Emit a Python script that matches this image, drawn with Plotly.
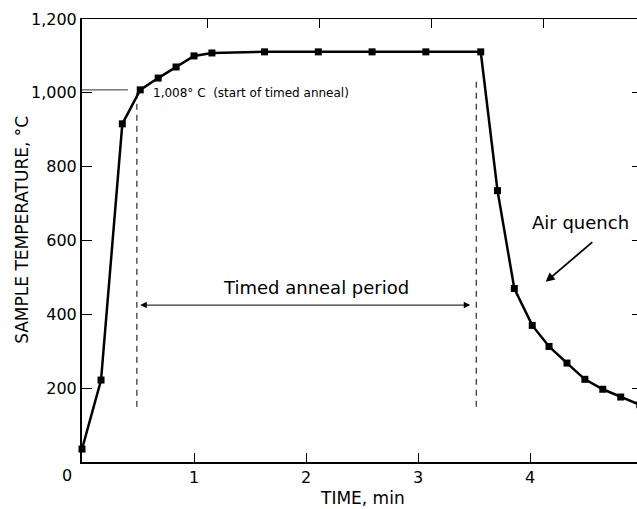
import plotly.graph_objects as go

# ---- data ----
time_min = [0.0, 0.17, 0.36, 0.52, 0.68, 0.84, 1.0, 1.16, 1.63, 2.11, 2.59, 3.07,
            3.56, 3.71, 3.86, 4.02, 4.17, 4.33, 4.49, 4.65, 4.81, 4.98]
temp_c = [35, 222, 916, 1008, 1040, 1070, 1100, 1108, 1111, 1111, 1111, 1111,
          1111, 735, 470, 370, 313, 268, 224, 197, 176, 155]

x_ticks = [1, 2, 3, 4]
y_ticks = [200, 400, 600, 800, 1000, 1200]
y_tick_labels = ["200", "400", "600", "800", "1,000", "1,200"]

anneal_start_temp = 1008
anneal_start_line_end = 0.41
anneal_start_time = 0.49
anneal_end_time = 3.52
guide_bottom = 140
guide_top_start = 1000
guide_top_end = 1030
period_arrow_y = 425
period_arrow_x = [0.52, 3.48]
quench_arrow_tail = (4.57, 599)
quench_arrow_head = (4.14, 488)

FONT = "DejaVu Sans"

fig = go.Figure()

# dashed guides (start/end of timed anneal)
fig.add_trace(go.Scatter(x=[anneal_start_time, anneal_start_time], y=[guide_top_start, guide_bottom],
                         mode="lines", line=dict(color="black", width=1, dash="6px,5px"),
                         hoverinfo="skip", showlegend=False))
fig.add_trace(go.Scatter(x=[anneal_end_time, anneal_end_time], y=[guide_top_end, guide_bottom],
                         mode="lines", line=dict(color="black", width=1, dash="6px,5px"),
                         hoverinfo="skip", showlegend=False))
# horizontal 1,008 C marker line
fig.add_trace(go.Scatter(x=[0, anneal_start_line_end], y=[anneal_start_temp, anneal_start_temp],
                         mode="lines", line=dict(color="#333333", width=1),
                         hoverinfo="skip", showlegend=False))

# main curve
fig.add_trace(go.Scatter(x=time_min, y=temp_c, mode="lines+markers",
                         line=dict(color="black", width=2.5),
                         marker=dict(symbol="square", size=7, color="black"),
                         cliponaxis=False, showlegend=False))

# top axis (ticks slightly offset as in the scan)
fig.add_trace(go.Scatter(x=[], y=[], xaxis="x2", showlegend=False))

annotations = [
    dict(x=anneal_start_time + 0.13, y=1000, xref="x", yref="y", text="1,008° C  (start of timed anneal)",
         showarrow=False, xanchor="left", yanchor="middle", font=dict(size=12, family=FONT, color="black")),
    dict(x=2.09, y=472, xref="x", yref="y", text="Timed anneal period", showarrow=False,
         font=dict(size=18, family=FONT, color="black")),
    dict(x=period_arrow_x[0], y=period_arrow_y, ax=period_arrow_x[1], ay=period_arrow_y,
         xref="x", yref="y", axref="x", ayref="y", text="", showarrow=True,
         arrowhead=2, arrowside="start+end", arrowsize=1.3, arrowwidth=1, arrowcolor="black"),
    dict(x=4.45, y=650, xref="x", yref="y", text="Air quench", showarrow=False,
         font=dict(size=18, family=FONT, color="black")),
    dict(x=quench_arrow_head[0], y=quench_arrow_head[1], ax=quench_arrow_tail[0], ay=quench_arrow_tail[1],
         xref="x", yref="y", axref="x", ayref="y", text="", showarrow=True,
         arrowhead=2, arrowsize=1, arrowwidth=1.8, arrowcolor="black"),
    dict(x=0, y=0, xref="x", yref="paper", text="0", showarrow=False, xshift=-15, yshift=-13,
         yanchor="middle", font=dict(size=16, family=FONT, color="black")),
    dict(x=2.5, y=0, xref="x", yref="paper", text="TIME, min", showarrow=False, yshift=-36,
         yanchor="middle", font=dict(size=17, family=FONT, color="black")),
    dict(x=0, y=0.524, xref="paper", yref="paper", text="SAMPLE TEMPERATURE, °C", showarrow=False,
         xshift=-60, textangle=-90, xanchor="center", yanchor="middle",
         font=dict(size=17, family=FONT, color="black")),
]

fig.update_layout(
    width=650, height=509,
    margin=dict(l=82, r=6, t=19, b=47),
    paper_bgcolor="white", plot_bgcolor="white",
    font=dict(family=FONT, color="black"),
    xaxis=dict(range=[0, 5], tickvals=x_ticks, ticktext=[str(v) for v in x_ticks],
               ticks="inside", ticklen=9, tickwidth=1, tickcolor="black",
               showline=True, linecolor="black", linewidth=2, mirror=False,
               showgrid=False, zeroline=False, tickfont=dict(size=16, family=FONT)),
    xaxis2=dict(range=[-0.12, 4.88], overlaying="x", side="top", tickvals=x_ticks,
                showticklabels=False, ticks="inside", ticklen=9, tickcolor="black",
                showline=True, linecolor="black", linewidth=1, showgrid=False, zeroline=False),
    yaxis=dict(range=[0, 1200], tickvals=y_ticks, ticktext=y_tick_labels,
               ticks="inside", ticklen=10, tickwidth=1, tickcolor="black",
               showline=True, linecolor="black", linewidth=2, mirror="ticks",
               showgrid=False, zeroline=False, tickfont=dict(size=16, family=FONT)),
    annotations=annotations,
)

fig.write_html("out.html",
               post_script="document.documentElement.style.overflow='hidden';document.body.style.overflow='hidden';")
